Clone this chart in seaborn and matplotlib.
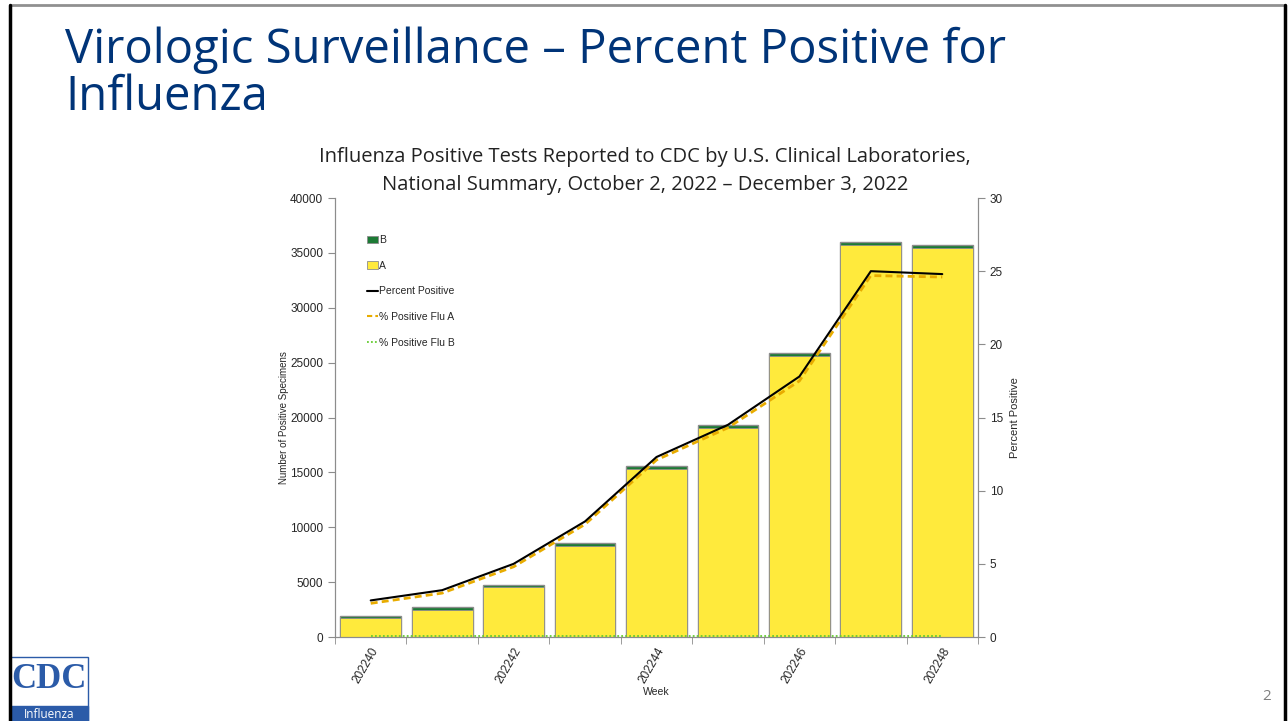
import numpy as np
import pandas as pd
import seaborn as sns
import matplotlib.pyplot as plt
from matplotlib.patches import Rectangle
from matplotlib.lines import Line2D
from matplotlib.ticker import MultipleLocator, FixedLocator

# ------ data ------ #
weeks = ["202240", "202241", "202242", "202243", "202244",
         "202245", "202246", "202247", "202248"]
flu_a = [1700, 2500, 4520, 8330, 15330, 19040, 25600, 35680, 35400]
flu_b = [200, 220, 240, 250, 260, 280, 290, 310, 320]
pct_positive = [2.5, 3.2, 5.0, 7.9, 12.3, 14.5, 17.8, 25.0, 24.8]
pct_flu_a = [2.3, 3.0, 4.8, 7.7, 12.1, 14.3, 17.5, 24.7, 24.6]
pct_flu_b = [0.1, 0.1, 0.1, 0.1, 0.1, 0.1, 0.1, 0.1, 0.1]

df = pd.DataFrame({"week": weeks, "A": flu_a, "B": flu_b,
                   "pct": pct_positive, "pctA": pct_flu_a, "pctB": pct_flu_b})
df["total"] = df["A"] + df["B"]
df["pos"] = np.arange(len(df))

sns.set_style("white")
plt.rcParams['font.family'] = ['Liberation Sans', 'DejaVu Sans']

YELLOW = "#FFEA3C"
GREEN = "#1C7A35"
EDGE = "#8C8C8C"
NAVY = "#003478"

fig = plt.figure(figsize=(12.88, 7.21), dpi=100, facecolor="w")

# ------ slide frame ------ #
fig.add_artist(Line2D([9.5 / 1288, 1285 / 1288], [1 - 5 / 721, 1 - 5 / 721],
                      transform=fig.transFigure, color="#909090", lw=2))
fig.add_artist(Line2D([9.5 / 1288, 9.5 / 1288], [0, 1 - 5 / 721],
                      transform=fig.transFigure, color="black", lw=2.5))
fig.add_artist(Line2D([1285 / 1288, 1285 / 1288], [0, 1 - 5 / 721],
                      transform=fig.transFigure, color="black", lw=2.5))

# ------ slide title (two lines) ------ #
title_font = ["Open Sans", "DejaVu Sans"]
fig.text(65 / 1288, 1 - 63 / 721, "Virologic Surveillance – Percent Positive for",
         fontsize=34, color=NAVY, family=title_font, va="baseline", ha="left")
fig.text(65 / 1288, 1 - 110 / 721, "Influenza",
         fontsize=34, color=NAVY, family=title_font, va="baseline", ha="left")

# ------ chart title ------ #
fig.text(645 / 1288, 1 - 171 / 721,
         "Influenza Positive Tests Reported to CDC by U.S. Clinical Laboratories,\n"
         "National Summary, October 2, 2022 – December 3, 2022",
         fontsize=14.5, color="#222222", family=title_font,
         ha="center", va="center", linespacing=1.5)

ax = fig.add_axes([335 / 1288, 1 - 637 / 721, (978 - 335) / 1288, (637 - 198) / 721])

# ------ stacked bars: total in green, A in yellow on top ------ #
sns.barplot(data=df, x="week", y="total", color=GREEN, width=0.85,
            edgecolor=EDGE, linewidth=1, saturation=1, ax=ax)
sns.barplot(data=df, x="week", y="A", color=YELLOW, width=0.85,
            edgecolor=EDGE, linewidth=0.6, saturation=1, ax=ax)

ax.set_xlim(-0.5, len(weeks) - 0.5)
ax.set_ylim(0, 40000)
ax.yaxis.set_major_locator(MultipleLocator(5000))
ax.set_xticks(range(0, len(weeks), 2))
ax.set_xticklabels(weeks[::2], rotation=60, ha="right", rotation_mode="anchor",
                   fontsize=8.5)
ax.xaxis.set_minor_locator(FixedLocator(np.arange(-0.5, len(weeks), 1)))
ax.tick_params(axis="x", which="major", length=0, pad=6)
ax.tick_params(axis="x", which="minor", length=5, color=EDGE, direction="out",
               bottom=True)
ax.tick_params(axis="y", length=5, color=EDGE, direction="out", labelsize=8.5, left=True)
ax.set_xlabel("Week", fontsize=7.5, labelpad=1)
ax.set_ylabel("Number of Positive Specimens", fontsize=7, labelpad=1)
for s in ["left", "bottom", "right"]:
    ax.spines[s].set_color(EDGE)
ax.spines["top"].set_visible(False)

# ------ percent positive lines ------ #
ax2 = ax.twinx()
sns.lineplot(data=df, x="pos", y="pctB", color="#66CC33", lw=1.3,
             linestyle=(0, (1, 1.2)), ax=ax2)
sns.lineplot(data=df, x="pos", y="pctA", color="#E8AC00", lw=2,
             linestyle=(0, (2.5, 1.5)), ax=ax2)
sns.lineplot(data=df, x="pos", y="pct", color="black", lw=1.5, ax=ax2)
ax2.set_ylim(0, 30)
ax2.set_xlim(-0.5, len(weeks) - 0.5)
ax2.yaxis.set_major_locator(MultipleLocator(5))
ax2.tick_params(axis="y", length=5, color=EDGE, direction="out", labelsize=8.5, right=True)
ax2.set_ylabel("Percent Positive", fontsize=8, labelpad=5)
for s in ["left", "bottom", "right"]:
    ax2.spines[s].set_color(EDGE)
ax2.spines["top"].set_visible(False)

# ------ legend ------ #
handles = [
    Rectangle((0, 0), 1, 1, facecolor=GREEN, edgecolor=EDGE, lw=0.6),
    Rectangle((0, 0), 1, 1, facecolor=YELLOW, edgecolor=EDGE, lw=0.6),
    Line2D([], [], color="black", lw=1.5),
    Line2D([], [], color="#E8AC00", lw=1.5, linestyle=(0, (2.5, 1.5))),
    Line2D([], [], color="#66CC33", lw=1.3, linestyle=(0, (1, 1.2))),
]
labels = ["B", "A", "Percent Positive", "% Positive Flu A", "% Positive Flu B"]
ax2.legend(handles, labels, loc="upper left", bbox_to_anchor=(0.044, 0.925),
           frameon=False, fontsize=7.5, handlelength=1.0, handleheight=0.7,
           handletextpad=0.1, labelspacing=1.5, borderaxespad=0)

# ------ CDC logo ------ #
fig.patches.append(Rectangle((10 / 1288, 0), 78 / 1288, 64 / 721,
                             transform=fig.transFigure, facecolor="white",
                             edgecolor="#2B5BA8", lw=1))
fig.patches.append(Rectangle((10 / 1288, 0), 78 / 1288, 15 / 721,
                             transform=fig.transFigure, facecolor="#2B5BA8",
                             edgecolor="#2B5BA8", lw=1))
fig.text(49 / 1288, 1 - 679 / 721, "CDC", fontsize=25, color="#2B5BA8",
         family=["Liberation Serif", "DejaVu Serif"], weight="bold",
         ha="center", va="center")
fig.text(49 / 1288, 1 - 714 / 721, "Influenza", fontsize=8.5, color="white",
         family=title_font, ha="center", va="center")

# ------ page number ------ #
fig.text(1267 / 1288, 1 - 697 / 721, "2", fontsize=11, color="#808080",
         family=title_font, ha="center", va="center")

plt.savefig("out.png", dpi=100)
